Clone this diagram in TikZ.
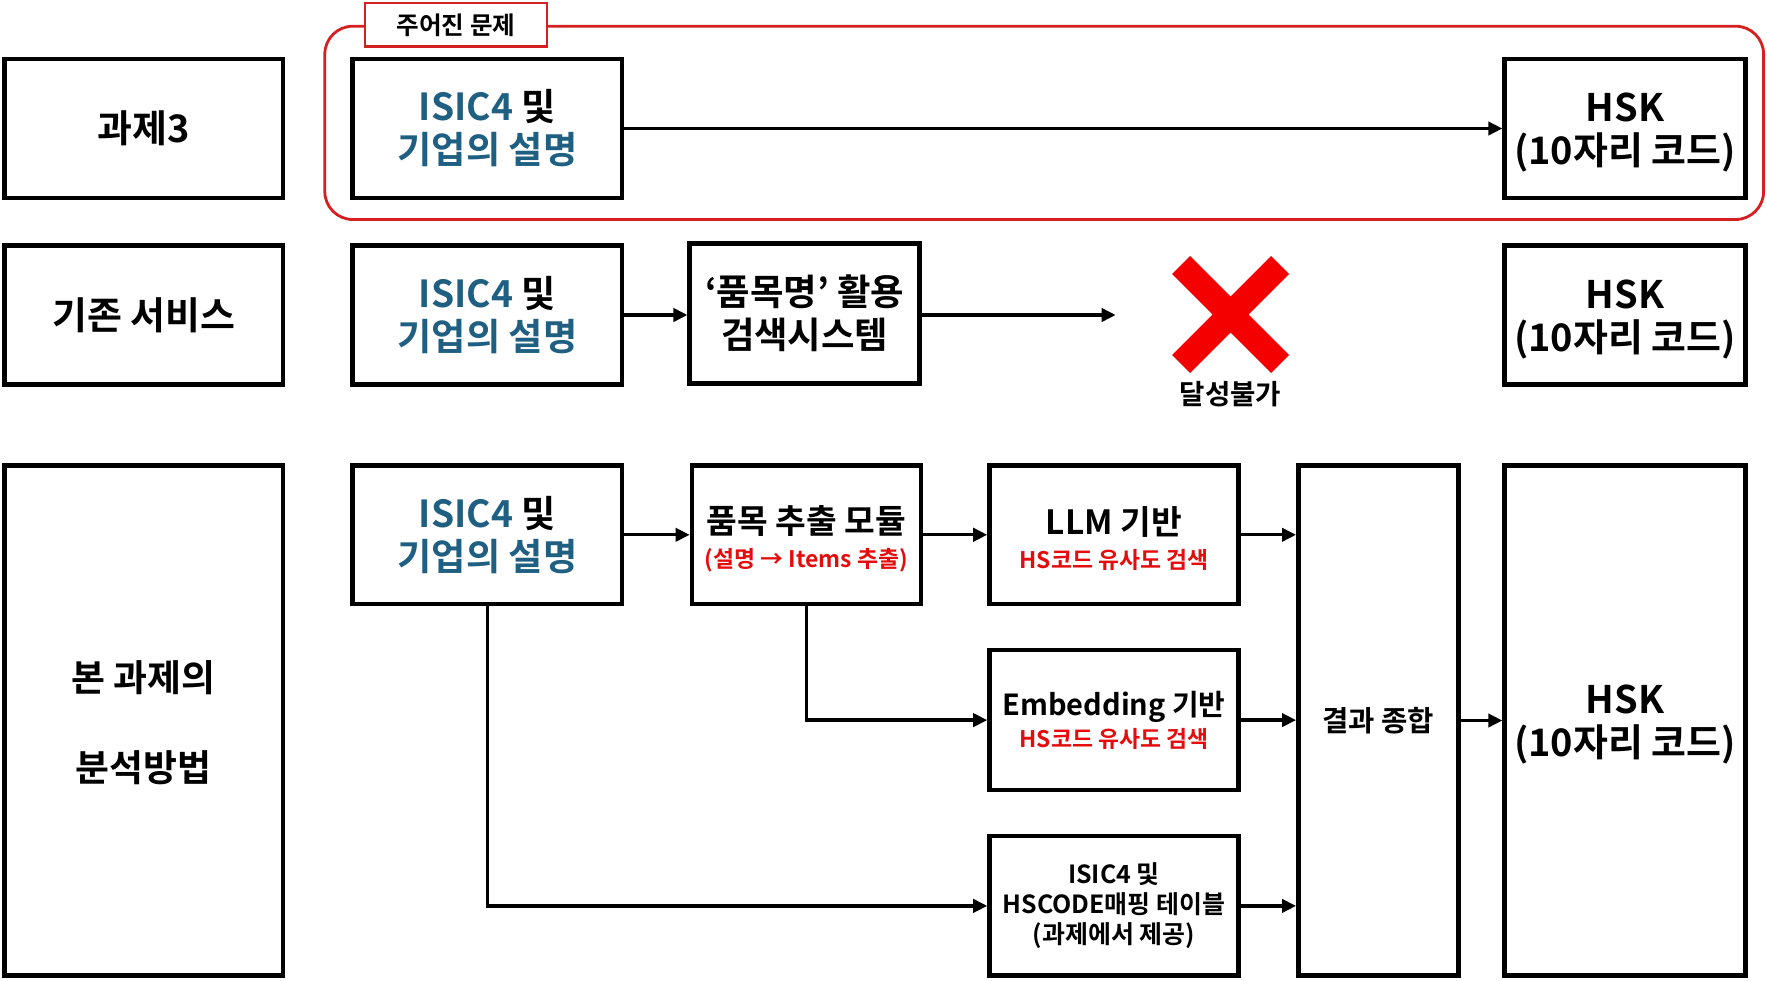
\documentclass[tikz,border=0pt]{standalone}
\usepackage{fontspec}
\setmainfont{Noto Sans CJK KR}[BoldFont={Noto Sans CJK KR Bold}]
\usetikzlibrary{arrows.meta}
\definecolor{isicblue}{RGB}{31,95,130}
\definecolor{subred}{RGB}{228,12,12}
\definecolor{framered}{RGB}{212,32,32}
\definecolor{xred}{RGB}{245,0,0}
\begin{document}
\begin{tikzpicture}[x=0.02cm,y=-0.02cm,
  box/.style={draw, line width=2.55pt, inner sep=0pt, align=center, fill=white,
    font=\bfseries\fontsize{21.2}{24.5}\selectfont},
  txt/.style={inner sep=0pt, align=center},
  lbl/.style={font=\bfseries\fontsize{21.6}{24.5}\selectfont},
  arr/.style={line width=1.9pt, -{Triangle[length=8pt,width=7.5pt]}}]
\useasboundingbox (0,0) rectangle (1767,980);

% red frame for given problem
\draw[framered, line width=1.6pt, rounded corners=0.56cm] (324.8,26.2) rectangle (1763.6,219.5);
\node[draw=framered, line width=1.5pt, fill=white, minimum width=3.64cm, minimum height=0.87cm,
  inner sep=0pt, font=\bfseries\fontsize{14}{16}\selectfont] (given) at (455.9,24.8) {주어진 문제};

% left labels
\node[box, lbl, minimum width=5.57cm, minimum height=2.79cm] (a1) at (143.7,128.5) {과제3};
\node[box, lbl, minimum width=5.57cm, minimum height=2.78cm] (a2) at (143.7,315) {기존 서비스};
\node[box, minimum width=5.57cm, minimum height=10.2cm] (a3) at (143.7,720.5) {};
\node[txt, font=\bfseries\fontsize{21}{51.6}\selectfont] (a3t) at ([yshift=-1.2pt]a3.center) {본 과제의\\분석방법};

% row 1
\node[box, minimum width=5.39cm, minimum height=2.79cm] (b1) at (487.4,128.5)
  {{\color{isicblue}ISIC4} 및\\{\color{isicblue}기업의 설명}};
\node[box, minimum width=4.82cm, minimum height=2.79cm] (f1) at (1625.1,128.5) {};
\node[txt, lbl] (f1t) at ([yshift=-2.5pt]f1.center) {HSK\\(10자리 코드)};
\draw[arr] (b1.east) -- (f1.west);

% row 2
\node[box, minimum width=5.39cm, minimum height=2.78cm] (b2) at (487.4,315)
  {{\color{isicblue}ISIC4} 및\\{\color{isicblue}기업의 설명}};
\node[box, minimum width=4.6cm, minimum height=2.8cm, font=\bfseries\fontsize{20.7}{24.5}\selectfont] (c2) at (804.7,313.5)
  {‘품목명’ 활용\\검색시스템};
\node[box, minimum width=4.82cm, minimum height=2.78cm] (f2) at (1625.1,315) {};
\node[txt, lbl] (f2t) at ([yshift=-2.5pt]f2.center) {HSK\\(10자리 코드)};
\coordinate (stop) at (1115.7,315);
\draw[arr] (b2.east) -- (b2.east -| c2.west);
\draw[arr] (c2.east |- stop) -- (stop);
\draw[xred, line width=14.5pt] (1181,265) -- (1280,364) (1181,364) -- (1280,265);
\node[font=\bfseries\fontsize{15.7}{18}\selectfont] (fail) at (1230.6,394.4) {달성불가};

% row 3
\node[box, minimum width=5.39cm, minimum height=2.77cm] (b3) at (487.4,534.8)
  {{\color{isicblue}ISIC4} 및\\{\color{isicblue}기업의 설명}};
\node[box, minimum width=4.58cm, minimum height=2.77cm] (c3) at (806.4,534.8) {};
\node[txt, font=\bfseries\fontsize{19}{19}\selectfont] (c3t) at ([yshift=-2.2pt]c3.center)
  {품목 추출 모듈\\{\color{subred}\fontsize{13}{15}\selectfont (설명 → Items 추출)}};
\node[box, minimum width=4.98cm, minimum height=2.77cm] (d1) at (1114,534.8) {};
\node[txt, font=\bfseries\fontsize{19}{19}\selectfont] (d1t) at ([yshift=-2.2pt]d1.center)
  {LLM 기반\\{\color{subred}\fontsize{13}{15}\selectfont HS코드 유사도 검색}};
\node[box, minimum width=4.98cm, minimum height=2.8cm, font=\bfseries\fontsize{16.5}{18}\selectfont] (d2) at (1114,720.1)
  {Embedding 기반\\{\color{subred}\fontsize{13}{15}\selectfont HS코드 유사도 검색}};
\node[box, minimum width=4.98cm, minimum height=2.79cm,
  font=\bfseries\fontsize{14.2}{17}\selectfont] (d3) at (1114,905.9)
  {ISIC4 및\\HSCODE매핑 테이블\\(과제에서 제공)};
\node[box, minimum width=3.2cm, minimum height=10.2cm,
  font=\bfseries\fontsize{16.3}{18}\selectfont] (e) at (1378.3,720.5) {결과 종합};
\node[box, minimum width=4.82cm, minimum height=10.2cm] (f3) at (1625.1,720.5) {};
\node[txt, lbl] (f3t) at ([yshift=-2.5pt]f3.center) {HSK\\(10자리 코드)};

\draw[arr] (b3.east) -- (c3.west);
\draw[arr] (c3.east) -- (d1.west);
\draw[arr] (d1.east) -- (d1.east -| e.west);
\draw[arr] (d2.east) -- (d2.east -| e.west);
\draw[arr] (d3.east) -- (d3.east -| e.west);
\draw[arr] (e.east) -- (e.east -| f3.west);
\draw[arr] (c3.south) |- (d2.west);
\draw[arr] (b3.south) |- (d3.west);
\end{tikzpicture}
\end{document}
